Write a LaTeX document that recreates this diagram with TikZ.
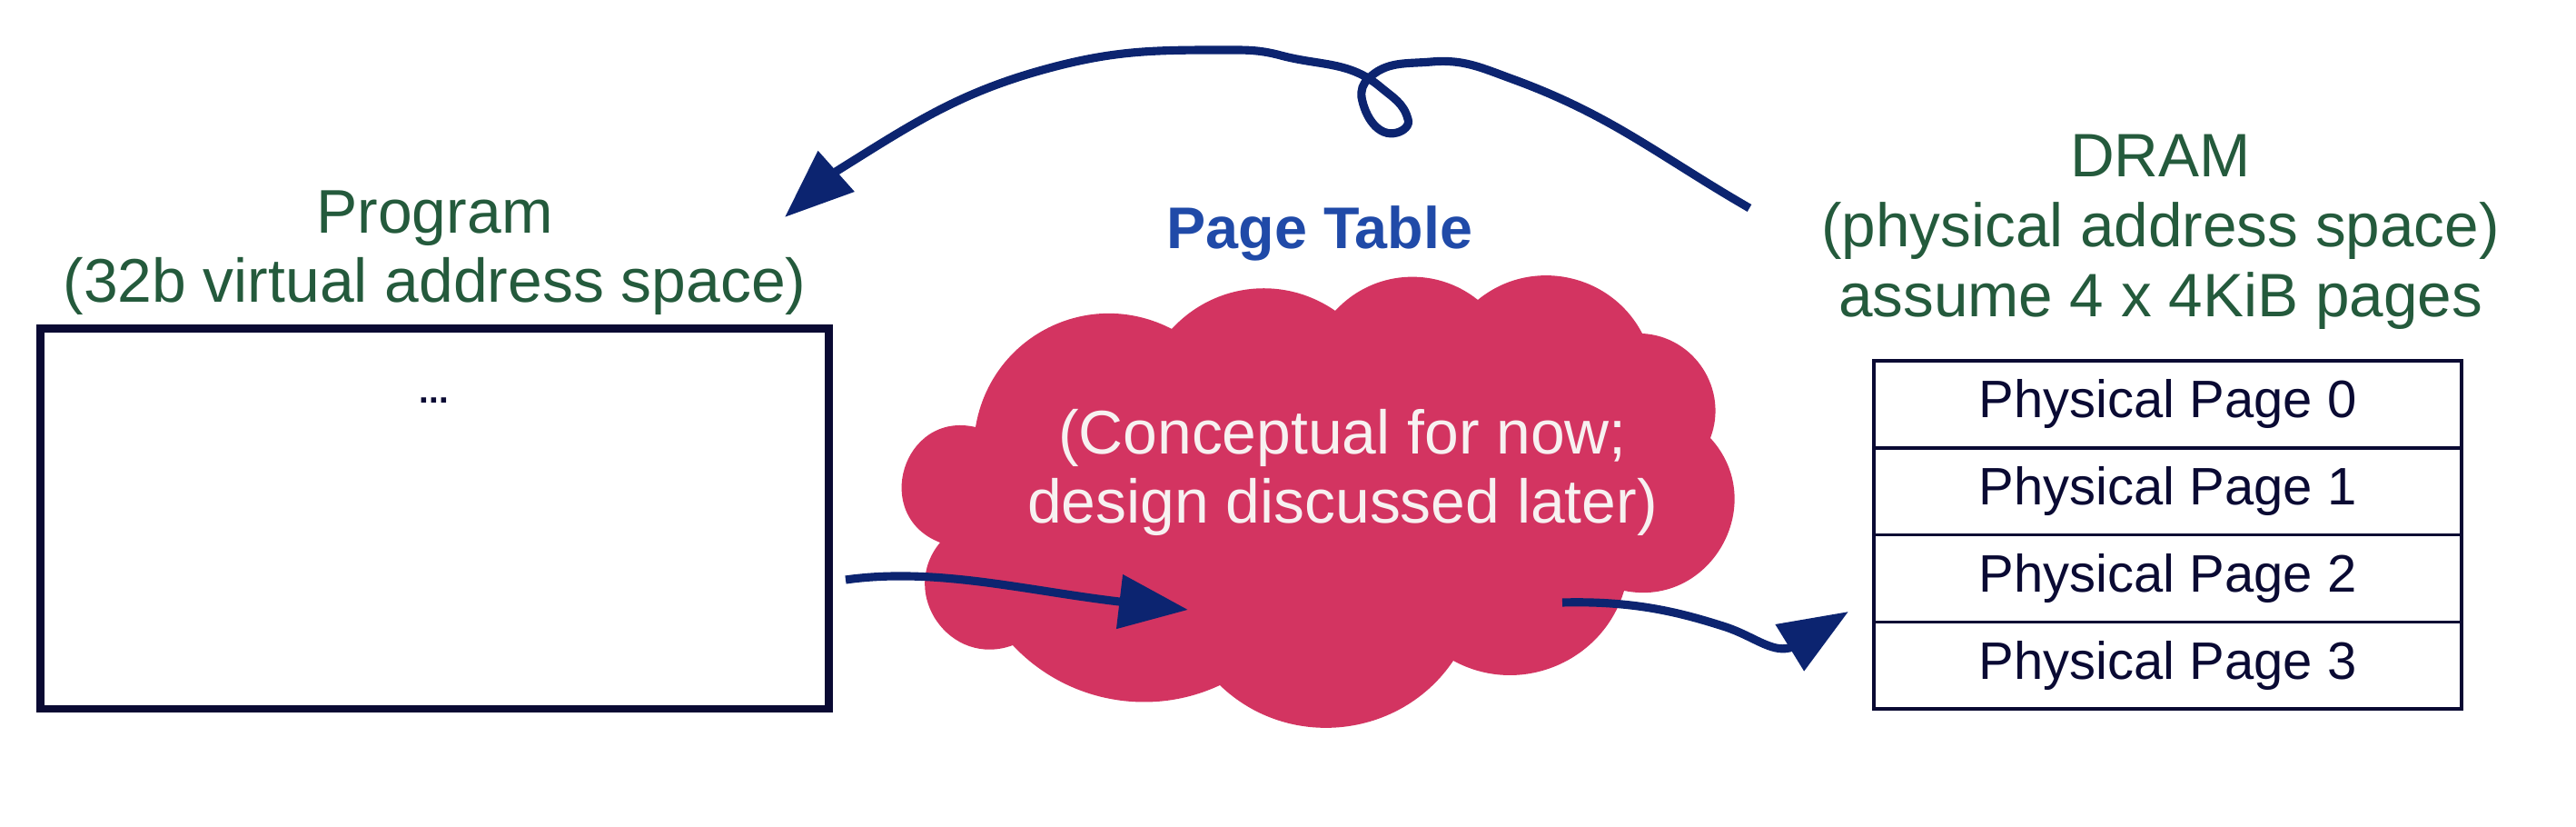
\documentclass[tikz,border=0pt]{standalone}
\usepackage{fontspec}
\setmainfont{Liberation Sans}
\usepackage{tikz}
\usetikzlibrary{positioning, arrows.meta}
\usepackage{xcolor}

\definecolor{labelgreen}{HTML}{245A3C}
\definecolor{tableblue}{HTML}{204AA8}
\definecolor{cloudpink}{HTML}{D33461}
\definecolor{flownavy}{HTML}{0C2470}
\definecolor{boxnavy}{HTML}{0A0A33}
\definecolor{cloudtext}{HTML}{F7F1F1}

\begin{document}
\begin{tikzpicture}[
    membox/.style={draw=boxnavy, line width=2.4pt, minimum width=8.68cm, minimum height=4.184cm, inner sep=0pt},
    pagerow/.style={draw=boxnavy, line width=1pt, outer sep=0pt, minimum width=6.47cm, minimum height=0.9575cm, text=boxnavy, font=\fontsize{16.5}{19}\selectfont},
    spacelabel/.style={align=center, inner sep=0pt, text=labelgreen},
    flow/.style={draw=flownavy, line width=2.6pt, -{Triangle[length=0.76cm, width=0.58cm]}},
]

    \useasboundingbox (0,0) rectangle (28.36,9.10);

    % Program (virtual address space)
    \node[membox] (prog) at (4.785,3.392) {};
    \node[text=boxnavy, font=\bfseries\fontsize{11}{13}\selectfont] (dots) at (4.78,4.69) {...};
    \node[spacelabel, above=0.1cm of prog, font=\fontsize{19.3}{21.7}\selectfont] (proglabel) {Program\\(32b virtual address space)};

    % Page table cloud
    \fill[cloudpink] (10.35,3.13)
        to[bend left=86, looseness=1.58] (10.74,4.40)
        to[bend left=54, looseness=1.08] (12.90,5.48)
        to[bend left=41, looseness=0.98] (14.70,5.68)
        to[bend left=43, looseness=0.99] (16.27,5.80)
        to[bend left=51, looseness=1.04] (18.08,5.43)
        to[bend left=54, looseness=1.07] (18.83,4.28)
        to[bend left=72, looseness=1.29] (17.88,2.60)
        to[bend left=51, looseness=1.04] (16.00,1.83)
        to[bend left=50, looseness=1.03] (13.43,1.56)
        to[bend left=36, looseness=0.94] (11.15,2.00)
        to[bend left=75, looseness=1.35] (10.35,3.13) -- cycle;
    \node[anchor=base, text=tableblue, font=\bfseries\fontsize{18.4}{22}\selectfont] (ptlabel) at (14.53,6.36) {Page Table};
    \node[align=center, text=cloudtext, font=\fontsize{19.3}{21.8}\selectfont] (ptnote) at (14.78,3.90) {(Conceptual for now;\\design discussed later)};

    % DRAM (physical address space)
    \node[pagerow] (page0) at (23.865,4.651) {Physical Page 0};
    \node[pagerow, below=0pt of page0] (page1) {Physical Page 1};
    \node[pagerow, below=0pt of page1] (page2) {Physical Page 2};
    \node[pagerow, below=0pt of page2] (page3) {Physical Page 3};
    \node[spacelabel, above=0.34cm of page0, xshift=-0.08cm, font=\fontsize{19.2}{21.9}\selectfont] (dramlabel) {DRAM\\(physical address space)\\assume 4 x 4KiB pages};

    % Coordinates for the arrow ends
    \coordinate (vaStart) at (9.31,2.72);   % right of the program box
    \coordinate (ptIn) at (13.08,2.39);     % into the cloud
    \coordinate (ptOut) at (17.20,2.47);    % out of the cloud
    \coordinate (dramIn) at (20.35,2.37);   % left of the page rows
    \coordinate (dramOut) at (19.26,6.81);  % left of the DRAM label
    \coordinate (progIn) at (8.64,6.71);    % right of the program label

    % Draw the arrows
    \draw[flow] (vaStart) .. controls (10.3,2.86) and (11.3,2.60) .. (12.32,2.48) -- (ptIn);
    \draw[flow] (ptOut) .. controls (18.0,2.49) and (18.5,2.36) .. (19.0,2.20)
        .. controls (19.3,2.10) and (19.5,1.92) .. (19.70,1.97) -- (dramIn);
    \draw[flow] (dramOut) to[out=150, in=-20] (16.65,8.23) to[out=160, in=5] (15.76,8.42)
        to[out=185, in=45] (15.06,8.23) to[out=225, in=95] (14.99,8.03)
        to[out=-80, in=195] (15.38,7.64) to[out=15, in=-70] (15.50,7.79)
        to[out=105, in=-40] (15.20,8.14) to[out=140, in=-15] (14.10,8.49)
        to[out=165, in=0] (13.46,8.55) to[out=180, in=15] (11.55,8.35)
        to[out=195, in=32] (9.20,7.21) -- (progIn);

\end{tikzpicture}
\end{document}
